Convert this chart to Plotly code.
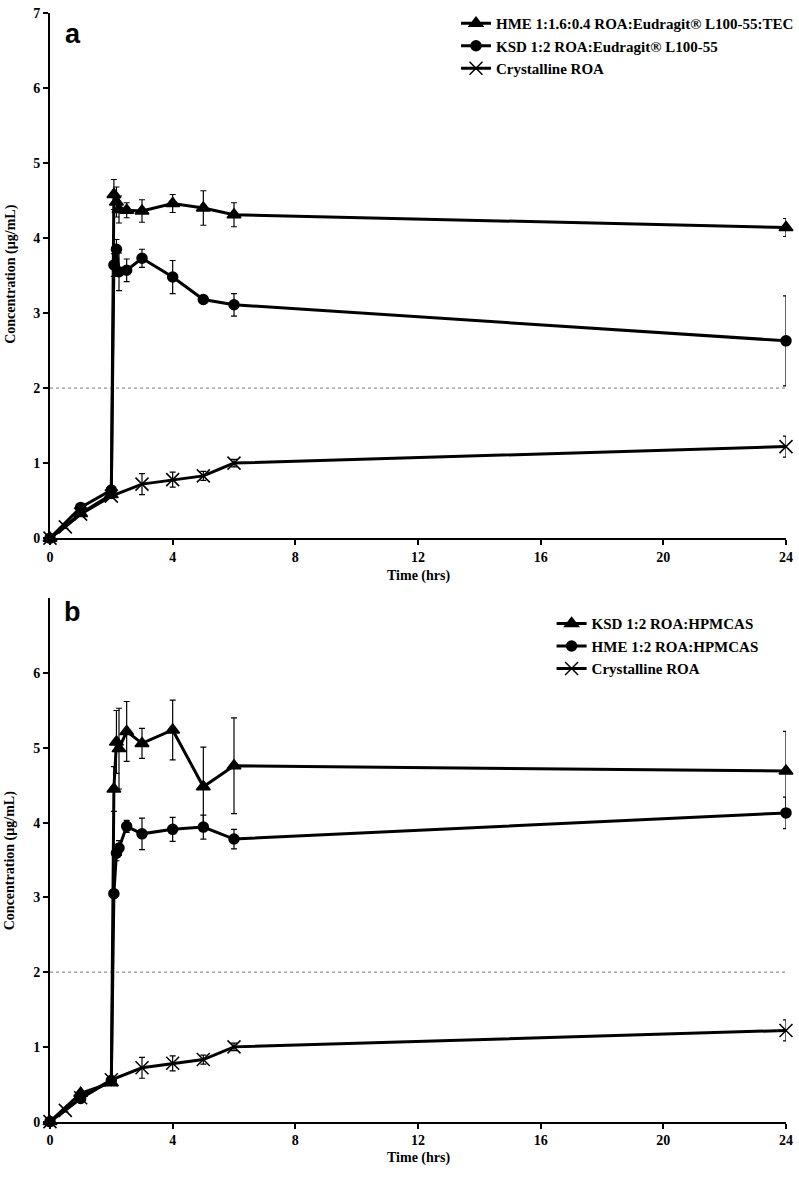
import plotly.graph_objects as go

# ---------------- data ----------------
TIME = [0, 1, 2, 2.083, 2.167, 2.25, 2.5, 3, 4, 5, 6, 24]
TIME_CRYST = [0, 0.5, 1, 2, 3, 4, 5, 6, 24]

# Panel a
HME_A_NAME = "HME 1:1.6:0.4 ROA:Eudragit® L100-55:TEC"
HME_A = [0, 0.33, 0.58, 4.58, 4.48, 4.38, 4.37, 4.36, 4.46, 4.40, 4.31, 4.14]
HME_A_ERR = [0, 0.03, 0.03, 0.20, 0.20, 0.18, 0.10, 0.15, 0.12, 0.23, 0.16, 0.12]
KSD_A_NAME = "KSD 1:2 ROA:Eudragit® L100-55"
KSD_A = [0, 0.41, 0.64, 3.64, 3.85, 3.55, 3.57, 3.73, 3.48, 3.18, 3.11, 2.63]
KSD_A_ERR = [0, 0.03, 0.03, 0.15, 0.13, 0.25, 0.15, 0.12, 0.22, 0.05, 0.15, 0.60]

# Panel b
KSD_B_NAME = "KSD 1:2 ROA:HPMCAS"
KSD_B = [0, 0.38, 0.52, 4.45, 5.08, 4.99, 5.22, 5.06, 5.24, 4.48, 4.76, 4.69]
KSD_B_ERR = [0, 0.03, 0.03, 0.30, 0.42, 0.54, 0.40, 0.20, 0.40, 0.53, 0.64, 0.53]
HME_B_NAME = "HME 1:2 ROA:HPMCAS"
HME_B = [0, 0.31, 0.55, 3.05, 3.59, 3.66, 3.95, 3.85, 3.91, 3.94, 3.78, 4.13]
HME_B_ERR = [0, 0.03, 0.03, 0.05, 0.10, 0.10, 0.08, 0.21, 0.16, 0.16, 0.13, 0.21]

# Crystalline (both panels)
CRYST_NAME = "Crystalline ROA"
CRYST = [0, 0.15, 0.32, 0.56, 0.72, 0.78, 0.83, 1.00, 1.22]
CRYST_ERR = [0, 0.02, 0.03, 0.03, 0.14, 0.10, 0.06, 0.05, 0.14]

X_TICKS = [0, 4, 8, 12, 16, 20, 24]
Y_TICKS_A = [0, 1, 2, 3, 4, 5, 6, 7]
Y_TICKS_B = [0, 1, 2, 3, 4, 5, 6]
REF_LEVEL = 2

# ---------------- styling ----------------
W, H = 799, 1177
AX_L, AX_R = 50, 791          # x pixel of the plot area edges
ML = AX_L
MR = W - AX_R
SERIF = "Liberation Serif, Times New Roman, serif"
SANS = "Liberation Sans, Arial, sans-serif"


def px_y(p):
    return (H - p) / H


def px_x(p):
    return (p - AX_L) / (AX_R - AX_L)


fig = go.Figure()


def add_series(x, y, err, name, symbol, size, xa, ya, legend):
    fig.add_trace(go.Scatter(
        x=x, y=y, name=name, mode="lines+markers",
        xaxis=xa, yaxis=ya, legend=legend, cliponaxis=False,
        line=dict(color="black", width=3),
        marker=dict(symbol=symbol, size=size, color="black",
                    line=dict(color="black", width=1.5)),
        error_y=dict(type="data", array=err, visible=True,
                     color="black", thickness=1.2, width=3),
    ))


add_series(TIME, HME_A, HME_A_ERR, HME_A_NAME, "triangle-up", 12, "x", "y", "legend")
add_series(TIME, KSD_A, KSD_A_ERR, KSD_A_NAME, "circle", 10, "x", "y", "legend")
add_series(TIME_CRYST, CRYST, CRYST_ERR, CRYST_NAME, "x-thin-open", 13, "x", "y", "legend")

add_series(TIME, KSD_B, KSD_B_ERR, KSD_B_NAME, "triangle-up", 12, "x2", "y2", "legend2")
add_series(TIME, HME_B, HME_B_ERR, HME_B_NAME, "circle", 10, "x2", "y2", "legend2")
add_series(TIME_CRYST, CRYST, CRYST_ERR, CRYST_NAME, "x-thin-open", 13, "x2", "y2", "legend2")

# reference dotted lines at y = 2
for xr, yr in (("x", "y"), ("x2", "y2")):
    fig.add_shape(type="line", xref=f"{xr} domain", yref=yr,
                  x0=0, x1=1, y0=REF_LEVEL, y1=REF_LEVEL,
                  line=dict(color="#777777", width=1, dash="dot"), layer="below")

tickfont = dict(family=SERIF, size=14, color="black", weight="bold")
axis_common = dict(showline=True, linecolor="black", linewidth=2,
                   ticks="outside", ticklen=5, tickwidth=2, tickcolor="black",
                   showgrid=False, zeroline=False, tickfont=tickfont,
                   ticklabeloverflow="allow")

dom_a = [px_y(538), px_y(6)]
dom_b = [px_y(1129), px_y(599)]

legend_font = dict(family=SERIF, size=15, color="black", weight="bold")

fig.update_layout(
    width=W, height=H,
    margin=dict(l=ML, r=MR, t=0, b=0),
    paper_bgcolor="white", plot_bgcolor="white",
    xaxis=dict(domain=[0, 1], anchor="y", range=[0, 24], tickvals=X_TICKS, **axis_common),
    yaxis=dict(domain=dom_a, anchor="x", range=[0, 7], tickvals=Y_TICKS_A, **axis_common),
    xaxis2=dict(domain=[0, 1], anchor="y2", range=[0, 24], tickvals=X_TICKS, **axis_common),
    yaxis2=dict(domain=dom_b, anchor="x2", range=[0, 7], tickvals=Y_TICKS_B, **axis_common),
    legend=dict(x=px_x(459), y=1, xanchor="left", yanchor="top",
                bgcolor="rgba(0,0,0,0)", font=legend_font),
    legend2=dict(x=px_x(555), y=px_y(608), xanchor="left", yanchor="top",
                 bgcolor="rgba(0,0,0,0)", font=legend_font),
    showlegend=True,
)

ann_font = dict(family=SERIF, size=14, color="black", weight="bold")
for ytitle_px, xtitle_px, label, label_px in ((271, 576, "a", 27), (865, 1166, "b", 613)):
    fig.add_annotation(text="Time (hrs)", xref="paper", yref="paper",
                       x=0.5, y=px_y(xtitle_px), showarrow=False,
                       xanchor="center", yanchor="middle", font=ann_font)
    fig.add_annotation(text="Concentration (µg/mL)", xref="paper", yref="paper",
                       x=px_x(10), y=px_y(ytitle_px), showarrow=False, textangle=-90,
                       xanchor="center", yanchor="middle", font=ann_font)
    fig.add_annotation(text=label, xref="paper", yref="paper",
                       x=px_x(73), y=px_y(label_px), showarrow=False,
                       xanchor="center", yanchor="middle",
                       font=dict(family=SANS, size=27, color="black", weight="bold"))

# remove the browser's default 8px body margin so the figure sits at (0, 0)
fig.write_html(
    "out.html",
    config={"displayModeBar": False},
    post_script="document.body.style.margin='0';document.body.style.overflow='hidden';",
)
